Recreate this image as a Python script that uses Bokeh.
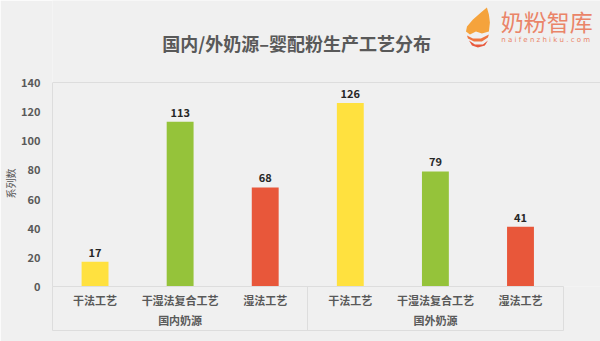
from bokeh.plotting import figure
from bokeh.models import Range1d, Label, FixedTicker, ColumnDataSource, PolyAnnotation, LinearAxis
from bokeh.core.properties import value
from bokeh.embed import file_html
from bokeh.resources import INLINE

groups = ["国内奶源", "国外奶源"]
processes = ["干法工艺", "干湿法复合工艺", "湿法工艺"]
domestic = [17, 113, 68]
foreign = [126, 79, 41]
colors = ["#FFE13F", "#95C33A", "#E8573A"]
y_ticks = [0, 20, 40, 60, 80, 100, 120, 140]
title_text = "国内/外奶源–婴配粉生产工艺分布"
y_label = "系列数"
logo_cn = "奶粉智库"
logo_en = "naifenzhiku.com"

vals = domestic + foreign
n = len(vals)
xs = [i + 0.5 for i in range(n)]
cols = colors * len(groups)
src = ColumnDataSource(dict(x=xs, top=vals, color=cols, label=[str(v) for v in vals]))

FONT = "Noto Sans CJK SC"
BG = "#F0F0F0"
TXT = "#595959"
FAINT = "#DDDDDD"

W, H = 600, 341
left = 50
base_px = 286
ymax = 140
scale = (base_px - 82) / ymax
unit = 85.4
x_end = (W - left) / unit
y_end = base_px / scale

p = figure(width=W, height=H, output_backend="svg", toolbar_location=None,
           x_range=Range1d(0, x_end), y_range=Range1d(0, y_end),
           x_axis_type=None,
           min_border_left=left, min_border_right=0, min_border_top=0,
           min_border_bottom=H - base_px,
           background_fill_color=BG, border_fill_color=BG, outline_line_color=None)

p.vbar(x="x", top="top", width=0.316, color="color", source=src, line_color=None)
p.text(x="x", y="top", text="label", source=src, text_align="center",
       text_baseline="bottom", y_offset=-5, text_font=value(FONT),
       text_font_style="bold", text_font_size="11px", text_color="#262626")

p.xgrid.grid_line_color = None
p.ygrid.ticker = FixedTicker(ticks=[ymax])
p.ygrid.grid_line_color = FAINT
p.ygrid.bounds = (0, n)

ya = p.yaxis[0]
ya.ticker = FixedTicker(ticks=y_ticks)
ya.bounds = (0, ymax)
ya.axis_line_color = FAINT
ya.major_tick_line_color = None
ya.minor_tick_line_color = None
ya.major_label_standoff = 6
ya.major_label_text_font = FONT
ya.major_label_text_font_style = "bold"
ya.major_label_text_font_size = "11px"
ya.major_label_text_color = TXT
# ideographic spaces keep the rotated title centred on the 0-140 span
ya.axis_label = y_label + "\u3000" * 8
ya.axis_label_text_font = FONT
ya.axis_label_text_font_style = "normal"
ya.axis_label_text_font_size = "10px"
ya.axis_label_text_color = TXT
ya.axis_label_standoff = 0

# process labels axis
proc_labels = {x: processes[i % len(processes)] for i, x in enumerate(xs)}
ax1 = LinearAxis(ticker=FixedTicker(ticks=xs), major_label_overrides=proc_labels,
                 bounds=(0, n), axis_line_color=FAINT,
                 major_tick_line_color=None, minor_tick_line_color=None,
                 major_tick_out=0, minor_tick_out=0, major_tick_in=0, minor_tick_in=0,
                 major_label_standoff=5, major_label_text_font=FONT,
                 major_label_text_font_style="bold", major_label_text_font_size="11px",
                 major_label_text_color=TXT)
p.add_layout(ax1, "below")

# group labels axis
k = len(processes)
grp_ticks = [g * k + k / 2 for g in range(len(groups))]
ax2 = LinearAxis(ticker=FixedTicker(ticks=grp_ticks),
                 major_label_overrides={t: groups[i] for i, t in enumerate(grp_ticks)},
                 axis_line_color=None,
                 major_tick_line_color=None, minor_tick_line_color=None,
                 major_tick_out=0, minor_tick_out=0, major_tick_in=0, minor_tick_in=0,
                 major_label_standoff=1, major_label_text_font=FONT,
                 major_label_text_font_style="bold", major_label_text_font_size="11px",
                 major_label_text_color=TXT)
p.add_layout(ax2, "below")

# separators / bottom border
sep_ticks = [g * k for g in range(len(groups) + 1)]
ax3 = LinearAxis(ticker=FixedTicker(ticks=[], minor_ticks=sep_ticks),
                 bounds=(0, n), axis_line_color=FAINT,
                 major_tick_line_color=None, minor_tick_line_color=FAINT,
                 major_tick_out=0, minor_tick_out=0, major_tick_in=0, minor_tick_in=44,
                 major_label_standoff=0, major_label_text_font_size="0px")
p.add_layout(ax3, "below")

def dx(px):
    return (px - left) / unit

def dy(py):
    return (base_px - py) / scale

p.add_layout(Label(x=dx(295), y=dy(42), text=title_text, text_align="center",
                   text_baseline="middle", text_font=FONT, text_font_style="bold",
                   text_font_size="18px", text_color=TXT))

# logo
p.add_layout(Label(x=dx(546), y=dy(20), text=logo_cn, text_align="center",
                   text_baseline="middle", text_font=FONT, text_font_style="normal",
                   text_font_size="23px", text_color="#EA8468"))
p.add_layout(Label(x=dx(545), y=dy(39), text=" ".join(logo_en), text_align="center",
                   text_baseline="middle", text_font="DejaVu Sans",
                   text_font_size="7px", text_color="#EA8468"))
flame = [(486, 7), (480, 12), (472, 19), (466, 26), (465, 31), (469, 34), (475, 31),
         (481, 33), (488, 31), (489, 22), (488, 14)]
stripe1 = [(466, 35), (472, 38), (480, 38), (488, 34), (487, 37), (481, 41), (473, 41), (467, 38)]
stripe2 = [(468, 40), (474, 44), (482, 44), (487, 40), (484, 45), (477, 47), (471, 45)]
for shape, c in [(flame, "#F5A33C"), (stripe1, "#EE7440"), (stripe2, "#E8583C")]:
    p.add_layout(PolyAnnotation(xs=[dx(a) for a, b in shape], ys=[dy(b) for a, b in shape],
                                fill_color=c, fill_alpha=1.0, line_color=None))

open("out.html", "w").write(file_html(p, INLINE))
